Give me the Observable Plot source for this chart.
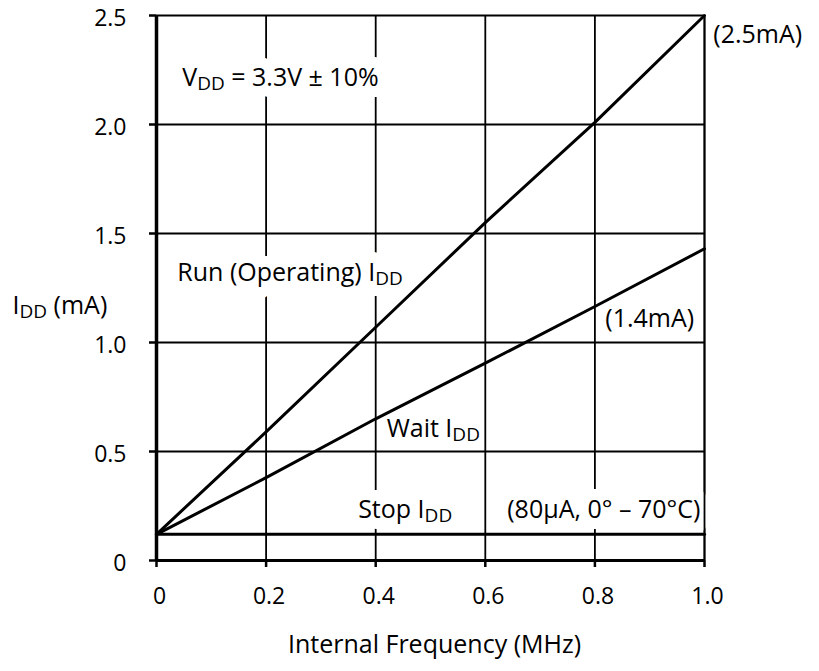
<!DOCTYPE html>
<html><head><meta charset="utf-8">
<script src="https://cdn.jsdelivr.net/npm/d3@7"></script>
<script src="https://cdn.jsdelivr.net/npm/@observablehq/plot@0.6"></script>
<style>html,body{margin:0;padding:0;background:#fff;} svg{display:block}</style>
</head><body><div id="chart"></div>
<script>
// ---- data ----
const freq    = [0, 0.2, 0.4, 0.6, 0.8, 1.0];            // Internal frequency (MHz)
const runIdd  = [0.12, 0.59, 1.07, 1.55, 2.01, 2.5];      // Run (Operating) IDD (mA)
const waitIdd = [0.12, 0.38, 0.65, 0.905, 1.165, 1.43];   // Wait IDD (mA)
const stopIdd = [0.12, 0.12, 0.12, 0.12, 0.12, 0.12];     // Stop IDD (mA)
const seriesNames = ["run", "wait", "stop"];
const xTicks = [0, 0.2, 0.4, 0.6, 0.8, 1.0];
const xTickLabels = ["0", "0.2", "0.4", "0.6", "0.8", "1.0"];
const yTicks = [0, 0.5, 1.0, 1.5, 2.0, 2.5];
const yTickLabels = ["0", "0.5", "1.0", "1.5", "2.0", "2.5"];
const xLabel = "Internal Frequency (MHz)";
const yLabel = "I_DD (mA)";
// annotations, anchored in data space
const noteText = ["V_DD = 3.3V ± 10%", "(2.5mA)", "Run (Operating) I_DD", "(1.4mA)", "Wait I_DD", "Stop I_DD", "(80µA, 0° – 70°C)"];
const noteX    = [0.047, 1.016, 0.038, 0.819, 0.42, 0.368, 0.64];
const noteY    = [2.215, 2.41, 1.32, 1.11, 0.605, 0.23, 0.23];
const noteMask = [true, false, true, false, false, true, true];

// ---- build tables ----
const seriesVals = [runIdd, waitIdd, stopIdd];
const rows = seriesNames.flatMap((s, k) => freq.map((f, i) => ({f, v: seriesVals[k][i], s})));
const notes = noteText.map((t, i) => ({t, x: noteX[i], y: noteY[i], mask: noteMask[i]}));
const masked = notes.filter(d => d.mask);

const FS = 23;   // tick labels
const FL = 25;   // annotations and titles
const chart = Plot.plot({
  width: 819, height: 671,
  marginLeft: 156, marginRight: 115, marginTop: 15, marginBottom: 111,
  x: {domain: [0, 1], label: null},
  y: {domain: [0, 2.5], label: null},
  style: {fontFamily: "'Open Sans', sans-serif", fontSize: FS + "px", color: "black", background: "white"},
  marks: [
    Plot.gridX(xTicks, {stroke: "black", strokeOpacity: 1, strokeWidth: 1.8}),
    Plot.gridY(yTicks, {stroke: "black", strokeOpacity: 1, strokeWidth: 1.8}),
    // white halos that interrupt the gridlines behind labels
    Plot.text(masked, {x: "x", y: "y", text: "t", textAnchor: "start", fontSize: FL, fill: "white", stroke: "white", strokeWidth: 22}),
    Plot.ruleX([1.0], {stroke: "black", strokeWidth: 1.8}),
    Plot.ruleX([0], {stroke: "black", strokeWidth: 3.5}),
    Plot.ruleY([0], {stroke: "black", strokeWidth: 3}),
    Plot.axisX(xTicks, {tickSize: 7, strokeWidth: 2.5, fill: "none"}),
    Plot.axisY(yTicks, {tickSize: 7, strokeWidth: 2.5, fill: "none"}),
    Plot.line(rows, {x: "f", y: "v", z: "s", stroke: "black", strokeWidth: 3}),
    // tick labels
    Plot.text(xTicks, {x: d => d, text: (d, i) => xTickLabels[i], frameAnchor: "bottom", lineAnchor: "top", dy: 27, dx: 3, fontSize: FS}),
    Plot.text(yTicks, {y: d => d, text: (d, i) => yTickLabels[i], frameAnchor: "left", textAnchor: "end", dx: -30, dy: 3, fontSize: FS}),
    // axis titles
    Plot.text([yLabel], {text: d => d, frameAnchor: "left", textAnchor: "start", dx: -144, dy: 17.5, fontSize: FL}),
    Plot.text([xLabel], {text: d => d, frameAnchor: "bottom", dy: 92, dx: 4, fontSize: FL}),
    // annotations
    Plot.text(notes, {x: "x", y: "y", text: "t", textAnchor: "start", fontSize: FL, fill: "black"})
  ]
});

// subscripts: turn "_DD" into a lowered, smaller "DD"
const ns = "http://www.w3.org/2000/svg";
chart.querySelectorAll("text").forEach(t => {
  const s = t.textContent;
  if (!s.includes("_DD")) return;
  const parts = s.split("_DD");
  t.textContent = "";
  parts.forEach((p, i) => {
    if (i > 0) {
      const sub = document.createElementNS(ns, "tspan");
      sub.setAttribute("font-size", "19px");
      sub.setAttribute("dy", "4");
      sub.textContent = "DD";
      t.appendChild(sub);
      const rest = document.createElementNS(ns, "tspan");
      rest.setAttribute("dy", "-4");
      rest.textContent = p;
      t.appendChild(rest);
    } else if (p) {
      t.appendChild(document.createTextNode(p));
    }
  });
});
document.getElementById("chart").appendChild(chart);
</script>
</body></html>
